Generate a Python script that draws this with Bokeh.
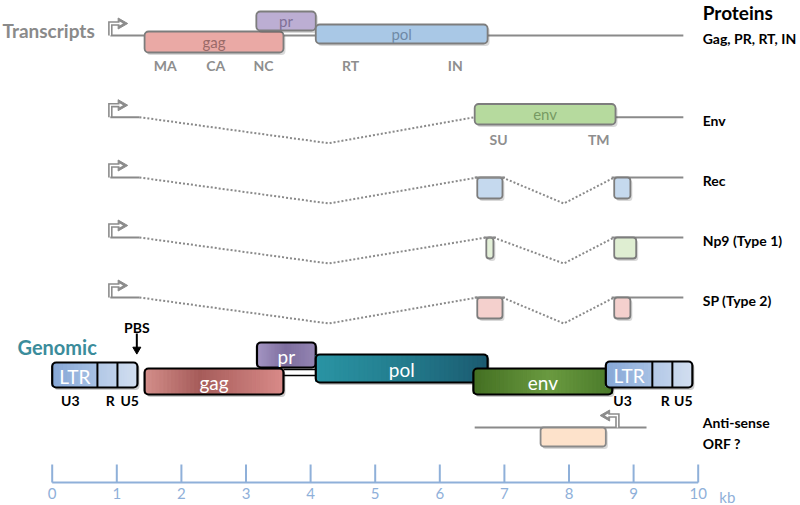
import math
from bokeh.plotting import figure
from bokeh.models import Range1d
from bokeh.embed import file_html
from bokeh.resources import INLINE
from bokeh.core.properties import value

FONT = value("Lato")

# ---------------- data (positions in kb) ----------------
protein_labels = ["Gag, PR, RT, IN", "Env", "Rec", "Np9 (Type 1)", "SP (Type 2)"]
promoter_kb = 0.90
first_exon_end_kb = 1.35
transcript_end_kb = 9.77
splice_dip1_kb = 4.28
splice_dip2_kb = 7.92

full_genes = ["gag", "pr", "pol"]
full_start = [1.43, 3.16, 4.08]
full_end = [3.58, 4.08, 6.74]
full_sub_labels = ["MA", "CA", "NC", "RT", "IN"]
full_sub_pos = [1.75, 2.53, 3.27, 4.62, 6.24]

env_gene = "env"
env_start = 6.54
env_end = 8.72
env_sub_labels = ["SU", "TM"]
env_sub_pos = [6.91, 8.46]

exon2_start = [6.58, 6.72, 6.58]
exon2_end = [6.97, 6.83, 6.97]
exon3_start = [8.70, 8.70, 8.70]
exon3_end = [8.95, 9.04, 8.95]

genomic_genes = ["gag", "pr", "pol", "env"]
genomic_start = [1.43, 3.17, 4.08, 6.52]
genomic_end = [3.58, 4.08, 6.74, 8.67]
ltr5_bounds = [0.0, 0.70, 1.01, 1.32]
ltr3_bounds = [8.57, 9.29, 9.60, 9.91]
ltr_parts = ["U3", "R", "U5"]
ltr5_label_pos = [0.28, 0.90, 1.20]
ltr3_label_pos = [8.83, 9.49, 9.77]
pbs_kb = 1.31

antisense_line = [6.54, 9.20]
antisense_orf = [7.56, 8.57]
antisense_promoter_kb = 8.75

ticks = list(range(0, 11))
tick_labels = [str(t) for t in ticks]

# ---------------- layout (screen px, y down) ----------------
W, H = 800, 505
PX_PER_KB = 64.6
X0 = -51.7 / PX_PER_KB
p = figure(width=W, height=H, output_backend="svg", toolbar_location=None,
           x_range=Range1d(X0, X0 + W / PX_PER_KB), y_range=Range1d(H, 0),
           min_border=0)
p.axis.visible = False
p.grid.visible = False
p.outline_line_color = None
p.background_fill_color = "white"

ROW_Y = [35, 116.7, 177, 237, 297]
DIP = 26
GRAY = "#8c8c8c"
LINE_GRAY = "#8a8a8a"
LABEL_X = 10.07
SH = 2.0 / PX_PER_KB  # shadow offset


def txt(x, y, t, size, color="black", bold=False, align="center", baseline="middle"):
    p.text(x=[x], y=[y], text=[t], text_font=FONT, text_font_size=f"{size}px",
           text_color=color, text_font_style="bold" if bold else "normal",
           text_align=align, text_baseline=baseline)


def hexrgb(c):
    c = c.lstrip("#")
    return tuple(int(c[i:i + 2], 16) for i in (0, 2, 4))


def grad_color(stops, t):
    for (t0, c0), (t1, c1) in zip(stops[:-1], stops[1:]):
        if t0 <= t <= t1:
            f = 0 if t1 == t0 else (t - t0) / (t1 - t0)
            a, b = hexrgb(c0), hexrgb(c1)
            return "#%02x%02x%02x" % tuple(int(round(a[k] + (b[k] - a[k]) * f)) for k in range(3))
    return stops[-1][1]


def gradient_fill(s, e, top, bot, stops, n=36):
    w = (e - s) / n
    lefts = [s + i * w for i in range(n)]
    rights = [s + (i + 1) * w for i in range(n)]
    cols = [grad_color(stops, (i + 0.5) / n) for i in range(n)]
    p.quad(left=lefts, right=rights, top=[top + 1] * n, bottom=[bot - 1] * n,
           fill_color=cols, line_color=cols, line_width=1.2)


def shadow(s, e, top, bot, alpha=0.22, r=4):
    p.quad(left=[s + SH], right=[e + SH], top=[top + 2.5], bottom=[bot + 2.5],
           fill_color="black", fill_alpha=alpha, line_color=None, border_radius=r)


def promoter(x, y, direction=1):
    dx = 0.17 * direction
    xs = [x, x, x + dx]
    ys = [y, y - 12, y - 12]
    p.line(xs, ys, line_color=GRAY, line_width=4.5, line_join="miter")
    p.scatter([x + dx], [y - 12], marker="triangle", size=11,
              angle=-math.pi / 2 * direction, fill_color=GRAY, line_color=GRAY)
    p.line(xs, ys, line_color="white", line_width=1.3, line_join="miter")
    p.scatter([x + dx - 0.01 * direction], [y - 12], marker="triangle", size=4,
              angle=-math.pi / 2 * direction, fill_color="white", line_color=None)


# ---------------- row 1: full-length transcript ----------------
y = ROW_Y[0]
p.line([promoter_kb, transcript_end_kb], [y, y], line_color=LINE_GRAY, line_width=2)
promoter(promoter_kb, y)
full_fill = ["#eaa9a5", "#bcaed3", "#a9c8e6"]
full_text = ["#9a6a68", "#7f7097", "#6f8aa6"]
full_top = [31, 11, 24]
full_bot = [52, 30, 43]
for g, s, e, f, tc, t, b in zip(full_genes, full_start, full_end, full_fill, full_text, full_top, full_bot):
    shadow(s, e, t, b, alpha=0.15)
    p.quad(left=[s], right=[e], top=[t], bottom=[b], fill_color=f, line_color="#7d7d7d",
           line_width=1.8, border_radius=4)
    txt((s + e) / 2, (t + b) / 2, g, 15, color=tc)
for lab, x in zip(full_sub_labels, full_sub_pos):
    txt(x, 65, lab, 14, color="#8e8e8e", bold=True)

# ---------------- row 2: env ----------------
y = ROW_Y[1]
promoter(promoter_kb, y)
p.line([promoter_kb, first_exon_end_kb], [y, y], line_color=LINE_GRAY, line_width=2)
p.line([first_exon_end_kb, splice_dip1_kb, env_start], [y, y + DIP, y],
       line_color=LINE_GRAY, line_width=2, line_dash="2 2")
p.line([env_end, transcript_end_kb], [y, y], line_color=LINE_GRAY, line_width=2)
shadow(env_start, env_end, 103.5, 124, alpha=0.15)
p.quad(left=[env_start], right=[env_end], top=[103.5], bottom=[124], fill_color="#b6da9e",
       line_color="#7d7d7d", line_width=1.8, border_radius=4)
txt((env_start + env_end) / 2, 113.5, env_gene, 15, color="#779a63")
for lab, x in zip(env_sub_labels, env_sub_pos):
    txt(x, 139, lab, 14, color="#8e8e8e", bold=True)

# ---------------- rows 3-5: spliced ----------------
exon_fill = ["#c5d9ee", "#e3f0d8", "#f4d0cd"]
exon3_fill = ["#c5d9ee", "#dfeed2", "#f4d0cd"]
for i in range(3):
    y = ROW_Y[i + 2]
    promoter(promoter_kb, y)
    p.line([promoter_kb, first_exon_end_kb], [y, y], line_color=LINE_GRAY, line_width=2)
    p.line([first_exon_end_kb, splice_dip1_kb, exon2_start[i]], [y, y + DIP, y],
           line_color=LINE_GRAY, line_width=2, line_dash="2 2")
    p.line([exon2_end[i], splice_dip2_kb, exon3_start[i]], [y, y + DIP, y],
           line_color=LINE_GRAY, line_width=2, line_dash="2 2")
    p.line([exon3_start[i], transcript_end_kb], [y, y], line_color=LINE_GRAY, line_width=2)
    for s, e, f in ((exon2_start[i], exon2_end[i], exon_fill[i]), (exon3_start[i], exon3_end[i], exon3_fill[i])):
        shadow(s, e, y, y + 21, alpha=0.15, r=3)
        p.quad(left=[s], right=[e], top=[y], bottom=[y + 21],
               fill_color=f, line_color="#7d7d7d", line_width=1.8, border_radius=3)
    p.line([exon2_start[i] - 0.04, exon2_end[i] + 0.04], [y, y], line_color=LINE_GRAY, line_width=2)
    p.line([exon3_start[i] - 0.04, exon3_start[i]], [y, y], line_color=LINE_GRAY, line_width=2)

# right-hand protein labels
txt(LABEL_X, 0, "Proteins", 19, bold=True, align="left", baseline="top")
for lab, y in zip(protein_labels, ROW_Y):
    txt(LABEL_X, y + 3, lab, 14, bold=True, align="left")

txt(-0.77, 30, "Transcripts", 19, color="#8a8a8a", bold=True, align="left")

# ---------------- genomic ----------------
txt(-0.537, 346, "Genomic", 20, color="#3b8c9b", bold=True, align="left")
txt(pbs_kb, 327, "PBS", 14, bold=True)
p.segment(x0=[pbs_kb], y0=[333], x1=[pbs_kb], y1=[349], line_color="black", line_width=2)
p.scatter([pbs_kb], [349], marker="inverted_triangle", size=8, fill_color="black", line_color="black")

gen_stops = [
    [(0, "#d48f8b"), (0.4, "#a65c5a"), (1, "#d88a88")],
    [(0, "#a596c4"), (0.5, "#7e6e9e"), (1, "#9384b2")],
    [(0, "#2a94a4"), (0.5, "#237d8e"), (1, "#1b5a70")],
    [(0, "#436f22"), (0.55, "#6a9a40"), (1, "#4a7a2a")],
]
gen_top = [368, 342, 354, 368]
gen_bot = [394, 367, 382, 394]
# connector gag -> pol
p.quad(left=[genomic_end[0]], right=[genomic_start[2]], top=[369], bottom=[375],
       fill_color="white", line_color="black", line_width=1.5)
for g, s, e, st, t, b in zip(genomic_genes, genomic_start, genomic_end, gen_stops, gen_top, gen_bot):
    shadow(s, e, t, b, alpha=0.2)
    gradient_fill(s, e, t, b, st)
    p.quad(left=[s], right=[e], top=[t], bottom=[b], fill_color=None, line_color="black",
           line_width=2.2, border_radius=4)
    txt((s + e) / 2, (t + b) / 2 + 1, g, 19, color="white")

ltr_stops = [[(0, "#86a7d6"), (1, "#a6c0e4")], [(0, "#b3c8e6"), (1, "#bfd1eb")], [(0, "#c4d5ec"), (1, "#d2def0")]]
for bounds, lpos, top, bot in ((ltr5_bounds, ltr5_label_pos, 362, 387), (ltr3_bounds, ltr3_label_pos, 361, 387)):
    shadow(bounds[0], bounds[3], top, bot, alpha=0.2)
    for k in range(3):
        gradient_fill(bounds[k], bounds[k + 1], top, bot, ltr_stops[k], n=12)
    p.quad(left=[bounds[0]], right=[bounds[3]], top=[top], bottom=[bot], fill_color=None,
           line_color="black", line_width=2.2, border_radius=4)
    p.segment(x0=bounds[1:3], y0=[top] * 2, x1=bounds[1:3], y1=[bot] * 2, line_color="black", line_width=2)
    txt((bounds[0] + bounds[1]) / 2, (top + bot) / 2 + 1, "LTR", 19, color="white")
    for lab, x in zip(ltr_parts, lpos):
        txt(x, 400, lab, 14, bold=True)

# ---------------- anti-sense ----------------
ya = 427
p.line(antisense_line, [ya, ya], line_color=LINE_GRAY, line_width=2)
shadow(antisense_orf[0], antisense_orf[1], ya, 446, alpha=0.15, r=3)
p.quad(left=[antisense_orf[0]], right=[antisense_orf[1]], top=[ya], bottom=[446],
       fill_color="#fde2cb", line_color="#8a8a8a", line_width=1.8, border_radius=3)
promoter(antisense_promoter_kb, ya, direction=-1)
txt(LABEL_X, 422, "Anti-sense", 14, bold=True, align="left")
txt(LABEL_X, 443, "ORF ?", 14, bold=True, align="left")

# ---------------- kb scale ----------------
AX = "#8fb0d9"
ya = 482
p.line([ticks[0], ticks[-1]], [ya, ya], line_color=AX, line_width=2)
p.segment(x0=ticks, y0=[464] * len(ticks), x1=ticks, y1=[ya] * len(ticks), line_color=AX, line_width=2)
p.text(x=ticks, y=[487] * len(ticks), text=tick_labels, text_font=FONT, text_font_size="15px",
       text_color=AX, text_align="center", text_baseline="top")
txt(10.45, 487, "kb", 15, color=AX, align="center", baseline="top")

open("out.html", "w").write(file_html(p, INLINE))
